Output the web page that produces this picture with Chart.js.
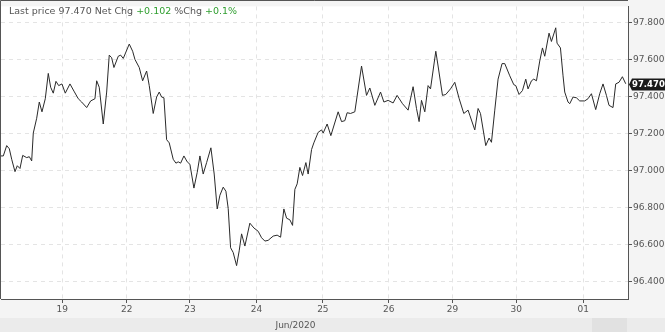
<!DOCTYPE html>
<html>
<head>
<meta charset="utf-8">
<script src="https://cdn.jsdelivr.net/npm/chart.js@4"></script>
<style>
  html, body { margin: 0; padding: 0; background: #f4f4f4; }
  #wrap { width: 665px; height: 332px; position: relative; }
</style>
</head>
<body>
<div id="wrap"><canvas id="c" width="665" height="332"></canvas></div>
<script>
// ---- data ----
const hours = [0,0.85,2.10,3.06,3.94,5.15,6.00,6.99,7.99,9.46,10.42,11.30,11.89,13.14,14.10,15.09,16.31,17.41,18.29,19.25,20.24,21.24,22.45,23.67,25.40,26.87,28.45,29.70,31.55,33.02,34.60,35.23,36.18,37.66,38.91,39.86,40.75,41.59,43.18,44.06,45.02,47.23,48.48,49.32,50.91,52.16,53.63,54.59,56.06,57.31,58.27,59.15,60.00,60.99,61.95,63.42,64.42,65.26,66.15,67.36,68.58,69.57,71.04,72.26,73.25,74.46,75.72,77.30,78.51,79.62,80.61,81.83,82.82,83.67,84.55,85.51,86.76,87.72,88.60,89.81,91.65,93.13,94.71,95.96,97.18,98.39,100.23,101.70,102.96,104.17,105.17,106.38,107.37,108.22,109.07,110.06,111.05,112.27,113.11,114.37,115.21,116.80,118.05,118.64,120.11,121.47,124.16,125.41,126.62,127.47,128.72,130.30,132.77,134.61,135.83,137.67,139.77,141.00,142.56,144.40,145.87,147.86,149.92,151.76,153.01,153.97,154.85,156.07,157.28,158.17,160.12,160.96,162.58,163.80,165.53,167.11,168.73,170.43,172.01,172.63,174.48,175.69,176.57,178.52,179.74,180.62,181.84,183.05,184.52,185.52,187.36,188.84,189.57,190.78,192.03,193.25,194.09,195.35,196.19,197.19,198.40,199.40,200.24,201.82,202.70,204.29,204.77,206.02,206.98,207.60,208.82,209.44,210.66,211.91,213.12,214.96,216.18,217.43,219.01,220.49,221.70,222.95,223.91,225.38,226.38,227.59,228.84,230.06];
const prices = [97.079,97.079,97.135,97.118,97.061,96.994,97.026,97.011,97.082,97.070,97.075,97.052,97.203,97.283,97.371,97.318,97.389,97.526,97.451,97.419,97.483,97.460,97.469,97.419,97.469,97.430,97.389,97.371,97.341,97.377,97.389,97.486,97.451,97.252,97.425,97.625,97.611,97.558,97.619,97.625,97.607,97.685,97.646,97.602,97.558,97.486,97.539,97.460,97.309,97.398,97.425,97.398,97.394,97.167,97.150,97.061,97.040,97.047,97.040,97.079,97.047,97.034,96.905,96.990,97.079,96.981,97.043,97.123,96.981,96.792,96.866,96.910,96.888,96.795,96.582,96.556,96.485,96.565,96.657,96.591,96.715,96.689,96.671,96.636,96.618,96.622,96.645,96.650,96.639,96.792,96.742,96.733,96.703,96.898,96.928,97.017,96.973,97.043,96.981,97.114,97.150,97.207,97.220,97.203,97.252,97.189,97.318,97.265,97.270,97.313,97.309,97.318,97.566,97.407,97.447,97.353,97.425,97.371,97.380,97.366,97.407,97.362,97.327,97.454,97.336,97.265,97.380,97.318,97.460,97.442,97.646,97.566,97.407,97.412,97.442,97.478,97.389,97.309,97.327,97.300,97.220,97.336,97.309,97.135,97.176,97.153,97.327,97.495,97.579,97.579,97.513,97.465,97.460,97.412,97.433,97.495,97.442,97.486,97.495,97.486,97.593,97.664,97.619,97.744,97.699,97.773,97.690,97.664,97.513,97.425,97.371,97.362,97.398,97.394,97.377,97.377,97.389,97.416,97.330,97.416,97.469,97.407,97.353,97.341,97.469,97.478,97.508,97.470];
const tickHours = [22.56,46.27,69.57,94.12,118.53,142.82,166.27,189.75,214.41];
const tickLabels = ['19','22','23','24','25','26','29','30','01'];
const yTicks = [96.4,96.6,96.8,97.0,97.2,97.4,97.6,97.8];
const periodLabel = 'Jun/2020';
const lastPrice = 97.470;
const netChg = '+0.102';
const pctChg = '+0.1%';

const FONT = '"DejaVu Sans", sans-serif';

const decor = {
  id: 'decor',
  beforeDraw(chart) {
    const {ctx, chartArea: a, width, height} = chart;
    ctx.save();
    ctx.fillStyle = '#f4f4f4';
    ctx.fillRect(0, 0, width, height);
    ctx.fillStyle = '#ebebeb';
    ctx.fillRect(0, 318, width, height - 318);
    ctx.fillStyle = '#e1e1e1';
    ctx.fillRect(592, 318, 35, height - 318);
    ctx.fillStyle = '#ffffff';
    ctx.fillRect(a.left, a.top, a.right - a.left, a.bottom - a.top);
    ctx.restore();
  },
  afterDraw(chart) {
    const {ctx, chartArea: a} = chart;
    ctx.save();
    // left & top border
    ctx.strokeStyle = '#555';
    ctx.lineWidth = 1;
    ctx.beginPath();
    ctx.moveTo(0.5, a.bottom);
    ctx.lineTo(0.5, 0.5);
    ctx.lineTo(a.right, 0.5);
    ctx.stroke();
    // title
    ctx.font = '9.5px ' + FONT;
    ctx.textBaseline = 'alphabetic';
    ctx.textAlign = 'left';
    let x = 9;
    const parts = [
      ['Last price ' + lastPrice.toFixed(3) + ' Net Chg ', '#555'],
      [netChg, '#2f9e2f'],
      [' %Chg ', '#555'],
      [pctChg, '#2f9e2f']
    ];
    for (const [t, c] of parts) {
      ctx.fillStyle = c;
      ctx.fillText(t, x, 14);
      x += ctx.measureText(t).width;
    }
    // period label
    ctx.font = '9px ' + FONT;
    ctx.fillStyle = '#555';
    ctx.textAlign = 'center';
    ctx.textBaseline = 'middle';
    ctx.fillText(periodLabel, 295.5, 326);
    // last price marker
    const y = Math.round(chart.scales.y.getPixelForValue(lastPrice)) + 0.5;
    const x0 = a.right + 1;
    ctx.fillStyle = '#1a1a1a';
    ctx.beginPath();
    ctx.moveTo(x0, y);
    ctx.lineTo(x0 + 3, y - 6);
    ctx.lineTo(665, y - 6);
    ctx.lineTo(665, y + 6);
    ctx.lineTo(x0 + 3, y + 6);
    ctx.closePath();
    ctx.fill();
    ctx.font = 'bold 8.5px ' + FONT;
    ctx.fillStyle = '#ffffff';
    ctx.textAlign = 'left';
    ctx.fillText(lastPrice.toFixed(3), x0 + 3, y + 0.5);
    ctx.restore();
  }
};

new Chart(document.getElementById('c'), {
  type: 'line',
  data: {
    datasets: [{
      data: hours.map((h, i) => ({x: h, y: prices[i]})),
      borderColor: '#2a2a2a',
      borderWidth: 1,
      pointRadius: 0,
      tension: 0,
      fill: false
    }]
  },
  options: {
    responsive: false,
    animation: false,
    events: [],
    layout: { padding: { left: 1, top: 1, right: 0, bottom: 0 } },
    plugins: { legend: { display: false }, tooltip: { enabled: false }, title: { display: false } },
    scales: {
      x: {
        type: 'linear',
        min: 0,
        max: 230.9,
        afterBuildTicks(scale) { scale.ticks = tickHours.map(v => ({value: v})); },
        afterFit(scale) { scale.height = 33; },
        ticks: {
          autoSkip: false,
          maxRotation: 0,
          padding: 1,
          color: '#555',
          font: { family: FONT, size: 9 },
          callback: (v, i) => tickLabels[i]
        },
        grid: { color: '#e4e4e4', tickLength: 4, tickColor: '#555', drawTicks: true },
        border: { display: true, color: '#555', width: 1, dash: [4, 4] }
      },
      y: {
        type: 'linear',
        position: 'right',
        min: 96.3043,
        max: 97.8889,
        afterBuildTicks(scale) { scale.ticks = yTicks.map(v => ({value: v})); },
        afterFit(scale) { scale.width = 37; },
        ticks: {
          padding: 1,
          color: '#555',
          font: { family: FONT, size: 9 },
          callback: v => Number(v).toFixed(3)
        },
        grid: { color: '#e4e4e4', tickLength: 4, tickColor: '#555', drawTicks: true },
        border: { display: true, color: '#555', width: 1, dash: [4, 4] }
      }
    }
  },
  plugins: [decor]
});
</script>
</body>
</html>
